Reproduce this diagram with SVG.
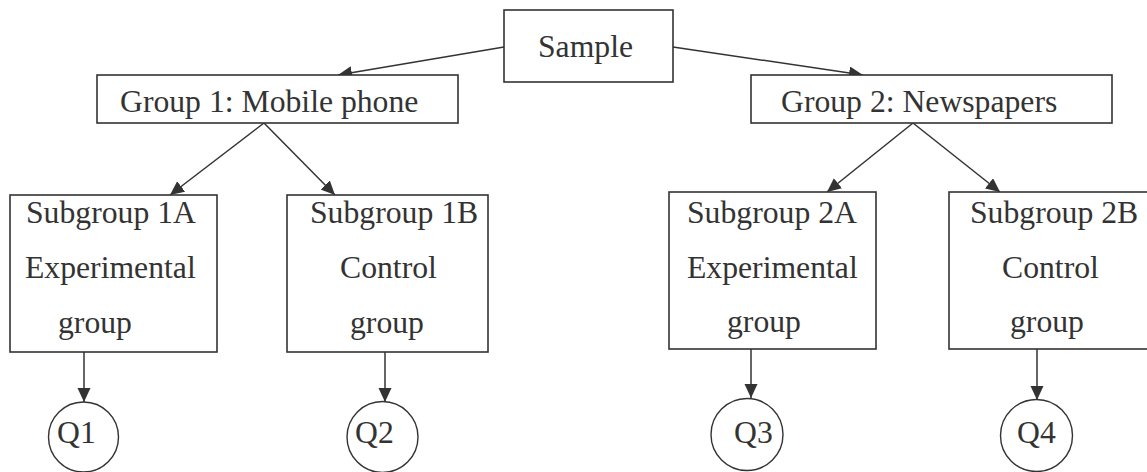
<svg xmlns="http://www.w3.org/2000/svg" width="1147" height="472" viewBox="0 0 1147 472">
<style>
.box{fill:#fff;stroke:#333;stroke-width:1.6}
.circ{fill:#fff;stroke:#333;stroke-width:1.4}
text{font-family:'Liberation Serif','Times New Roman',serif;font-size:31.7px;fill:#333}
.c{fill:none;stroke:#333;stroke-width:1.5}
</style>
<defs>
<marker id="ah" markerUnits="userSpaceOnUse" markerWidth="16" markerHeight="14" refX="14" refY="6.5" orient="auto">
<path d="M0,0 L14,6.5 L0,13 Z" fill="#333"/>
</marker>
</defs>
<rect width="1147" height="472" fill="#fff"/>
<g id="connectors">
<line class="c" x1="504" y1="47" x2="338" y2="75" marker-end="url(#ah)"/>
<line class="c" x1="673" y1="47" x2="863" y2="75" marker-end="url(#ah)"/>
<line class="c" x1="264" y1="123" x2="170" y2="195" marker-end="url(#ah)"/>
<line class="c" x1="264" y1="123" x2="335" y2="195" marker-end="url(#ah)"/>
<line class="c" x1="913" y1="123" x2="827" y2="192" marker-end="url(#ah)"/>
<line class="c" x1="913" y1="123" x2="1000" y2="192" marker-end="url(#ah)"/>
<line class="c" x1="84" y1="352" x2="84" y2="402" marker-end="url(#ah)"/>
<line class="c" x1="385" y1="352" x2="385" y2="402" marker-end="url(#ah)"/>
<line class="c" x1="751" y1="349" x2="751" y2="398" marker-end="url(#ah)"/>
<line class="c" x1="1037" y1="349" x2="1037" y2="400" marker-end="url(#ah)"/>
</g>
<g id="sample">
<rect class="box" x="504" y="10" width="169" height="72"/>
<text x="538" y="57">Sample</text>
</g>
<g id="group1">
<rect class="box" x="97" y="75" width="361" height="48"/>
<text x="120" y="112">Group 1: Mobile phone</text>
</g>
<g id="group2">
<rect class="box" x="751" y="75" width="361" height="48"/>
<text x="781" y="112">Group 2: Newspapers</text>
</g>
<g id="sub1a">
<rect class="box" x="10" y="195" width="207" height="157"/>
<text x="26" y="222.5">Subgroup 1A</text>
<text x="25" y="278">Experimental</text>
<text x="58" y="333">group</text>
</g>
<g id="sub1b">
<rect class="box" x="287" y="195" width="201" height="157"/>
<text x="310" y="222.5">Subgroup 1B</text>
<text x="340" y="278">Control</text>
<text x="350" y="333">group</text>
</g>
<g id="sub2a">
<rect class="box" x="669" y="192" width="207" height="157"/>
<text x="687" y="222.5">Subgroup 2A</text>
<text x="687" y="278">Experimental</text>
<text x="727" y="332">group</text>
</g>
<g id="sub2b">
<rect class="box" x="949" y="192" width="205" height="157"/>
<text x="970" y="222.5">Subgroup 2B</text>
<text x="1002" y="278">Control</text>
<text x="1010" y="332">group</text>
</g>
<g id="q1">
<circle class="circ" cx="83.5" cy="437" r="35"/>
<text x="57" y="443">Q1</text>
</g>
<g id="q2">
<circle class="circ" cx="382.5" cy="437" r="35.5"/>
<text x="355" y="443">Q2</text>
</g>
<g id="q3">
<circle class="circ" cx="747" cy="434.5" r="36"/>
<text x="734" y="443">Q3</text>
</g>
<g id="q4">
<circle class="circ" cx="1036.5" cy="435.5" r="36"/>
<text x="1017" y="443">Q4</text>
</g>
</svg>
